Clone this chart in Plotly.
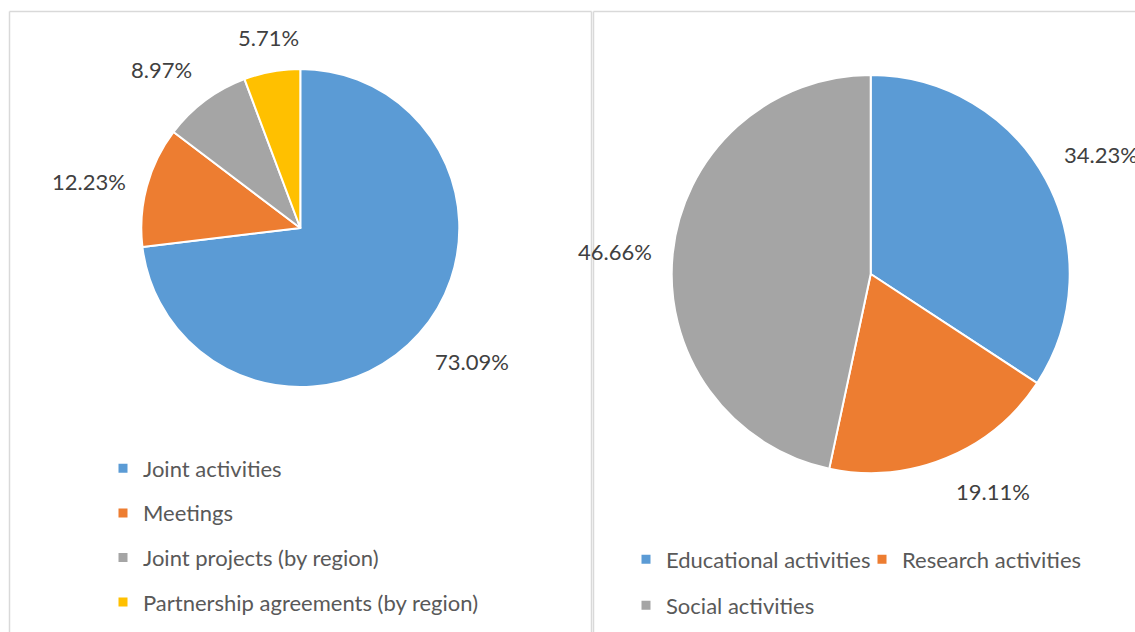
import math
import plotly.graph_objects as go

# ---- data ----
left_labels = ["Joint activities", "Meetings", "Joint projects (by region)",
               "Partnership agreements (by region)"]
left_values = [73.09, 12.23, 8.97, 5.71]
left_colors = ["#5B9BD5", "#ED7D31", "#A5A5A5", "#FFC000"]

right_labels = ["Educational activities", "Research activities", "Social activities"]
right_values = [34.23, 19.11, 46.66]
right_colors = ["#5B9BD5", "#ED7D31", "#A5A5A5"]

W, H = 1135, 632
FONT = "Lato"
LABEL_COLOR = "#404040"
LEGEND_COLOR = "#595959"
FS = 22

def px_x(x):
    return x / W

def px_y(y):
    return 1 - y / H

# pie geometry in pixels (center x, center y, radius)
left_geom = (300.3, 228.0, 159.0)
right_geom = (870.7, 274.0, 199.0)
LABEL_GAP = 19

fig = go.Figure()

def add_pie(labels, values, colors, geom):
    cx, cy, r = geom
    fig.add_trace(go.Pie(
        labels=labels, values=values, sort=False, direction="clockwise",
        rotation=0, textinfo="none", hoverinfo="skip", showlegend=False,
        marker=dict(colors=colors, line=dict(color="white", width=2)),
        domain=dict(x=[px_x(cx - r), px_x(cx + r)], y=[px_y(cy + r), px_y(cy - r)]),
    ))
    total = sum(values)
    cum = 0.0
    for v in values:
        mid = (cum + v / 2) / total * 2 * math.pi
        cum += v
        s, c = math.sin(mid), math.cos(mid)
        rr = r + LABEL_GAP
        ax = cx + rr * s
        ay = cy - rr * c
        xa = "left" if s > 0.3 else ("right" if s < -0.3 else "center")
        ya = "top" if c < -0.3 else ("bottom" if c > 0.3 else "middle")
        fig.add_annotation(
            x=px_x(ax), y=px_y(ay), xref="paper", yref="paper",
            text=f"{v:.2f}%", showarrow=False, xanchor=xa, yanchor=ya,
            font=dict(family=FONT, size=FS, color=LABEL_COLOR),
        )

add_pie(left_labels, left_values, left_colors, left_geom)
add_pie(right_labels, right_values, right_colors, right_geom)

# legend entries
def legend_item(name, color, legend, group):
    fig.add_trace(go.Scatter(
        x=[None], y=[None], mode="markers", name=name, legend=legend,
        legendgroup=group, hoverinfo="skip",
        marker=dict(symbol="square", size=9, color=color, line=dict(width=0)),
    ))

for i, (n, c) in enumerate(zip(left_labels, left_colors)):
    legend_item(n, c, "legend", f"l{i}")
for i, (n, c) in enumerate(zip(right_labels[:2], right_colors[:2])):
    legend_item(n, c, "legend2", f"r{i}")
legend_item(right_labels[2], right_colors[2], "legend3", "r2")

legend_font = dict(family=FONT, size=FS, color=LEGEND_COLOR)
border = dict(color="#D9D9D9", width=1.5)
fig.update_layout(
    width=W, height=H,
    margin=dict(l=0, r=0, t=0, b=0),
    paper_bgcolor="white", plot_bgcolor="white",
    xaxis=dict(visible=False), yaxis=dict(visible=False),
    showlegend=True,
    legend=dict(x=px_x(103), y=px_y(447.5), xanchor="left", yanchor="top",
                orientation="v", tracegroupgap=13, font=legend_font,
                bgcolor="rgba(0,0,0,0)"),
    legend2=dict(x=px_x(626), y=px_y(538.5), xanchor="left", yanchor="top",
                 orientation="h", entrywidth=191, font=legend_font,
                 bgcolor="rgba(0,0,0,0)"),
    legend3=dict(x=px_x(626), y=px_y(584.5), xanchor="left", yanchor="top",
                 orientation="h", font=legend_font, bgcolor="rgba(0,0,0,0)"),
    shapes=[
        dict(type="line", xref="paper", yref="paper", x0=px_x(9.5), x1=px_x(591.5),
             y0=px_y(11.5), y1=px_y(11.5), line=border),
        dict(type="line", xref="paper", yref="paper", x0=px_x(9.5), x1=px_x(9.5),
             y0=px_y(11.5), y1=px_y(640), line=border),
        dict(type="line", xref="paper", yref="paper", x0=px_x(591.5), x1=px_x(591.5),
             y0=px_y(11.5), y1=px_y(640), line=border),
        dict(type="line", xref="paper", yref="paper", x0=px_x(593.5), x1=px_x(593.5),
             y0=px_y(11.5), y1=px_y(640), line=border),
        dict(type="line", xref="paper", yref="paper", x0=px_x(593.5), x1=px_x(1140),
             y0=px_y(11.5), y1=px_y(11.5), line=border),
    ],
)

fig.write_html("out.html", config={"displayModeBar": False},
               post_script="document.body.style.margin='0';")
